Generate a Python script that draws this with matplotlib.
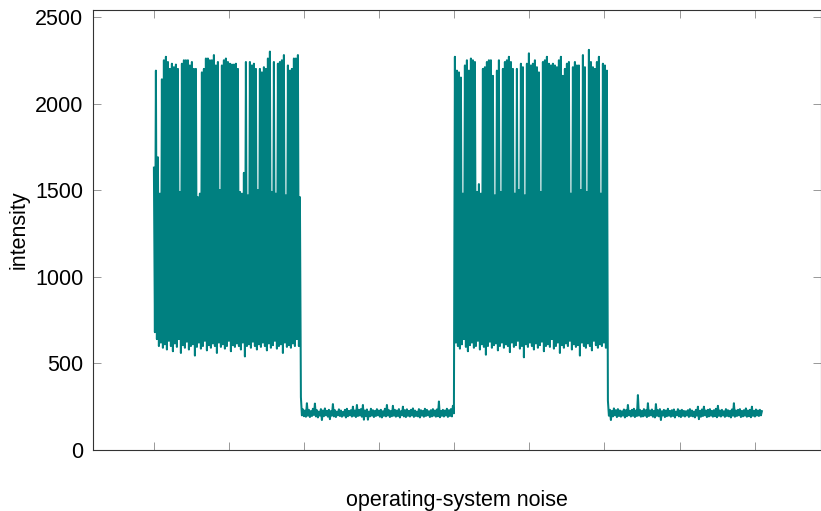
import itertools

import numpy as np
import matplotlib
matplotlib.use("Agg")
import matplotlib.pyplot as plt
from matplotlib.ticker import MultipleLocator

# Sampled intensity trace, four phases (busy / idle / busy / idle).
# Each phase is stored as its local maxima and local minima, in order.
sample_period = 13.316

busy1_peaks = [1630, 2190, 1690, 1480, 2140, 2250, 2270, 2240, 2200, 2230,
               2210, 2225, 2200, 1490, 2230, 2250, 2250, 2250, 2220, 2240,
               2200, 2200, 1460, 1480, 2180, 2200, 2260, 2260, 2250, 2250,
               2280, 2220, 2240, 1500, 2220, 2250, 2260, 2240, 2230, 2225,
               2225, 2230, 2200, 1490, 1480, 1600, 2240, 1470, 2240, 2220,
               2230, 2200, 1500, 2200, 2180, 2210, 2200, 2260, 2300, 1490,
               2240, 1480, 2230, 2240, 2250, 2280, 1470, 2220, 2190, 2200,
               2260, 2260, 2280, 1460]
busy1_troughs = [680, 640, 600, 620, 590, 610, 580, 630, 600, 570,
                 615, 595, 640, 560, 605, 590, 625, 580, 600, 610,
                 545, 595, 620, 585, 600, 630, 575, 605, 590, 615,
                 600, 560, 620, 595, 610, 585, 600, 630, 570, 605,
                 595, 615, 600, 580, 620, 540, 600, 610, 590, 625,
                 600, 580, 610, 595, 620, 600, 575, 615, 590, 605,
                 630, 585, 600, 610, 560, 620, 595, 605, 590, 615,
                 600, 640, 600]

idle1_peaks = [305, 235, 228, 270, 232, 225, 238, 268, 230, 222,
               236, 228, 240, 226, 232, 225, 265, 230, 222, 235,
               228, 220, 232, 238, 226, 230, 250, 228, 260, 232,
               236, 260, 228, 234, 222, 238, 230, 226, 236, 228,
               232, 224, 238, 260, 230, 226, 255, 232, 228, 236,
               224, 250, 230, 235, 226, 232, 240, 228, 222, 236,
               230, 226, 238, 232, 224, 230, 236, 228, 234, 280,
               226, 232, 228, 238, 230, 236, 255]
idle1_troughs = [200, 195, 192, 198, 190, 196, 202, 194, 188, 198,
                 173, 195, 200, 192, 178, 198, 194, 190, 200, 196,
                 192, 198, 188, 195, 200, 193, 197, 190, 196, 199,
                 192, 175, 196, 175, 194, 198, 190, 196, 200, 192,
                 188, 197, 194, 199, 190, 195, 198, 192, 196, 188,
                 200, 194, 190, 197, 193, 199, 191, 196, 194, 188,
                 198, 192, 196, 200, 190, 194, 198, 192, 195, 189,
                 197, 193, 199, 191, 196, 194, 212]

busy2_peaks = [2270, 2190, 2180, 2150, 1480, 2220, 2250, 2190, 2260, 2250,
               2240, 1490, 1535, 1480, 2200, 2210, 2240, 2250, 2250, 2160,
               1470, 2190, 2250, 1490, 2200, 2240, 2250, 2270, 2240, 2200,
               1480, 2200, 1500, 2230, 2210, 1470, 2230, 2290, 2220, 2230,
               2250, 2210, 2180, 1490, 2240, 2250, 2270, 2230, 2220, 2230,
               2220, 2210, 2250, 2270, 2160, 2200, 2230, 2240, 1480, 2210,
               2240, 2220, 2220, 1500, 2280, 2210, 1490, 2310, 2240, 2210,
               2200, 2240, 2270, 1480, 2230, 2220, 2190]
busy2_troughs = [620, 600, 585, 610, 640, 595, 570, 605, 620, 590,
                 600, 630, 580, 610, 595, 550, 600, 625, 590, 605,
                 615, 575, 600, 620, 590, 610, 600, 565, 620, 595,
                 605, 630, 585, 600, 535, 610, 595, 620, 600, 580,
                 615, 590, 605, 625, 570, 600, 610, 595, 640, 585,
                 600, 620, 560, 605, 590, 615, 600, 630, 580, 610,
                 595, 605, 545, 620, 600, 590, 615, 600, 575, 630,
                 605, 590, 610, 600, 620, 590]

idle2_peaks = [285, 232, 226, 240, 230, 236, 228, 224, 234, 230,
               260, 226, 232, 238, 228, 317, 232, 226, 236, 230,
               270, 228, 234, 226, 265, 230, 236, 224, 232, 228,
               238, 226, 230, 234, 222, 236, 228, 232, 226, 224,
               230, 236, 228, 222, 232, 250, 226, 234, 250, 228,
               232, 236, 226, 230, 238, 255, 228, 232, 224, 236,
               230, 226, 234, 270, 228, 232, 236, 226, 230, 240,
               228, 232, 250, 226, 234, 228, 232, 224]
idle2_troughs = [198, 173, 194, 200, 190, 196, 192, 198, 188, 195,
                 200, 193, 197, 190, 196, 199, 192, 194, 198, 190,
                 196, 200, 192, 188, 197, 194, 173, 199, 190, 195,
                 198, 192, 196, 188, 200, 194, 190, 197, 193, 199,
                 191, 196, 194, 188, 198, 178, 192, 196, 200, 190,
                 194, 198, 192, 195, 189, 197, 193, 199, 191, 196,
                 194, 188, 198, 192, 196, 200, 190, 194, 198, 192,
                 195, 189, 197, 193, 199, 196, 200]


def merge(peaks, troughs):
    out = []
    for p, t in itertools.zip_longest(peaks, troughs):
        out += [v for v in (p, t) if v is not None]
    return out


intensity = np.array(merge(busy1_peaks, busy1_troughs)
                     + merge(idle1_peaks, idle1_troughs)
                     + merge(busy2_peaks, busy2_troughs)
                     + merge(idle2_peaks, idle2_troughs), dtype=float)
t = np.arange(len(intensity)) * sample_period

plt.rcParams['font.family'] = ['Liberation Sans', 'DejaVu Sans']
plt.rcParams['font.size'] = 15.5

fig = plt.figure(figsize=(8.21, 5.11), dpi=100)
ax = fig.add_axes([93 / 821, 61 / 511, 728 / 821, 440 / 511])

ax.plot(t, intensity, color='#008080', lw=1.45)

ax.set_xlim(-811, 8883)
ax.set_ylim(0, 2540)
ax.xaxis.set_major_locator(MultipleLocator(1000))
ax.yaxis.set_major_locator(MultipleLocator(500))
ax.set_xticklabels([])
ax.tick_params(direction='in', length=5.8, width=0.6, color='#888888',
               top=True, right=True, pad=7)
for s in ax.spines.values():
    s.set_color('#333333')
    s.set_linewidth(0.8)

ax.set_xlabel('operating-system noise', labelpad=22)
ax.set_ylabel('intensity', labelpad=4)

fig.savefig('out.png', dpi=100)
